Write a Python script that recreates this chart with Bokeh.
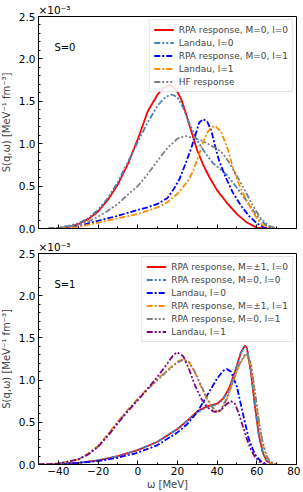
from bokeh.plotting import figure
from bokeh.models import (SingleIntervalTicker, PrintfTickFormatter, Label,
                          Legend, LegendItem, Range1d, CustomJSTickFormatter)
from bokeh.layouts import column
from bokeh.embed import file_html
from bokeh.resources import INLINE

# ---------------- data (S(q,w) in units of 1e-3 MeV^-1 fm^-3) ----------------
# top panel, S=0
w_t_rpa_l0 = [-40, -35, -30, -25, -20, -15, -10, -5, 0, 5, 10, 13, 16, 18, 20, 22, 24, 26, 28, 30, 33, 36, 40, 45, 50, 55, 60, 65]
s_t_rpa_l0 = [0.0, 0.02, 0.05, 0.11, 0.20, 0.34, 0.52, 0.76, 1.05, 1.38, 1.58, 1.66, 1.69, 1.67, 1.61, 1.52, 1.38, 1.22, 1.07, 0.92, 0.75, 0.61, 0.45, 0.30, 0.17, 0.07, 0.01, 0.0]

w_t_lan_l0 = [-45, -40, -35, -30, -25, -20, -15, -10, -5, 0, 5, 10, 14, 17, 20, 23, 26, 29, 32, 35, 38, 41, 45, 50, 55, 60, 65, 70]
s_t_lan_l0 = [0.0, 0.01, 0.03, 0.06, 0.12, 0.22, 0.36, 0.55, 0.78, 1.02, 1.25, 1.45, 1.55, 1.58, 1.55, 1.42, 1.24, 1.08, 0.96, 0.86, 0.77, 0.71, 0.63, 0.48, 0.32, 0.15, 0.03, 0.0]

w_t_rpa_l1 = [-45, -40, -30, -20, -10, 0, 5, 10, 15, 18, 21, 24, 27, 29, 31, 33, 35, 37, 39, 41, 44, 48, 52, 56, 60, 64, 67]
s_t_rpa_l1 = [0.0, 0.0, 0.03, 0.09, 0.15, 0.22, 0.25, 0.29, 0.36, 0.46, 0.58, 0.76, 0.95, 1.10, 1.25, 1.29, 1.26, 1.16, 0.97, 0.80, 0.62, 0.42, 0.27, 0.15, 0.06, 0.01, 0.0]

w_t_lan_l1 = [-45, -40, -30, -20, -10, 0, 5, 10, 15, 20, 25, 28, 31, 33, 35, 37, 39, 42, 45, 48, 51, 54, 57, 60, 63, 66]
s_t_lan_l1 = [0.0, 0.0, 0.02, 0.07, 0.12, 0.17, 0.21, 0.25, 0.31, 0.41, 0.55, 0.68, 0.88, 1.02, 1.13, 1.19, 1.21, 1.14, 0.96, 0.72, 0.52, 0.37, 0.24, 0.12, 0.04, 0.0]

w_t_hf = [-45, -40, -30, -25, -20, -15, -10, -5, 0, 5, 10, 15, 20, 24, 28, 32, 36, 40, 43, 46, 50, 54, 58, 62, 66, 70]
s_t_hf = [0.0, 0.01, 0.04, 0.08, 0.14, 0.21, 0.29, 0.40, 0.50, 0.64, 0.80, 0.95, 1.06, 1.09, 1.07, 1.04, 0.99, 0.94, 0.88, 0.78, 0.62, 0.45, 0.27, 0.12, 0.03, 0.0]

# bottom panel, S=1
w_b_rpa_m1_l0 = [-45, -40, -30, -20, -10, 0, 10, 20, 25, 30, 35, 40, 43, 46, 49, 52, 54, 55, 57, 59, 61, 63, 65, 68]
s_b_rpa_m1_l0 = [0.0, 0.01, 0.02, 0.05, 0.10, 0.17, 0.27, 0.42, 0.52, 0.63, 0.69, 0.72, 0.78, 0.90, 1.10, 1.33, 1.41, 1.38, 1.10, 0.70, 0.35, 0.14, 0.04, 0.0]

w_b_rpa_m0_l0 = [-45, -40, -30, -20, -10, 0, 10, 20, 25, 30, 35, 40, 43, 46, 49, 52, 54, 55, 57, 59, 61, 63, 65, 68]
s_b_rpa_m0_l0 = [0.0, 0.01, 0.02, 0.05, 0.10, 0.17, 0.27, 0.42, 0.52, 0.62, 0.68, 0.71, 0.77, 0.89, 1.09, 1.32, 1.40, 1.38, 1.12, 0.72, 0.37, 0.15, 0.05, 0.0]

w_b_lan_l0 = [-45, -40, -30, -20, -10, 0, 10, 20, 25, 30, 35, 40, 43, 45, 47, 50, 53, 56, 59, 62, 65]
s_b_lan_l0 = [0.0, 0.01, 0.02, 0.04, 0.08, 0.14, 0.23, 0.38, 0.48, 0.62, 0.82, 1.02, 1.11, 1.13, 1.10, 0.92, 0.60, 0.30, 0.12, 0.04, 0.0]

w_b_rpa_m1_l1 = [-50, -40, -30, -25, -20, -15, -10, -5, 0, 5, 10, 15, 20, 23, 26, 29, 32, 35, 38, 40, 42, 45, 48, 51, 54, 55, 57, 59, 61, 63, 65, 67, 70]
s_b_rpa_m1_l1 = [0.0, 0.01, 0.06, 0.13, 0.22, 0.36, 0.51, 0.65, 0.78, 0.90, 1.01, 1.12, 1.22, 1.25, 1.21, 1.08, 0.92, 0.77, 0.66, 0.62, 0.64, 0.78, 0.98, 1.17, 1.29, 1.30, 1.18, 0.85, 0.50, 0.24, 0.09, 0.02, 0.0]

w_b_rpa_m0_l1 = [-50, -40, -30, -25, -20, -15, -10, -5, 0, 5, 10, 15, 20, 23, 26, 29, 32, 35, 38, 40, 42, 45, 48, 51, 54, 55, 57, 59, 61, 63, 65, 67, 70]
s_b_rpa_m0_l1 = [0.0, 0.01, 0.06, 0.12, 0.21, 0.35, 0.50, 0.64, 0.77, 0.89, 1.00, 1.11, 1.21, 1.24, 1.21, 1.09, 0.93, 0.78, 0.67, 0.63, 0.65, 0.79, 0.99, 1.18, 1.30, 1.31, 1.20, 0.88, 0.53, 0.26, 0.10, 0.03, 0.0]

w_b_lan_l1 = [-50, -40, -30, -25, -20, -15, -10, -5, 0, 5, 10, 15, 18, 20, 23, 26, 29, 32, 35, 38, 40, 42, 45, 47, 49, 51, 53, 55, 57, 59, 62, 65]
s_b_lan_l1 = [0.0, 0.01, 0.06, 0.12, 0.21, 0.34, 0.49, 0.63, 0.76, 0.90, 1.04, 1.20, 1.30, 1.33, 1.28, 1.12, 0.93, 0.78, 0.68, 0.63, 0.62, 0.65, 0.72, 0.75, 0.72, 0.60, 0.45, 0.30, 0.18, 0.09, 0.02, 0.0]

y_ticks = [0.0, 0.5, 1.0, 1.5, 2.0, 2.5]
x_ticks = [-40, -20, 0, 20, 40, 60, 80]
x_tick_labels = ["\u221240", "\u221220", "0", "20", "40", "60", "80"]

DASH_DOT = "6 2 2 2"
DASH_DOT_DOT = "6 2 2 2 2 2"
DASH_DOT3 = "6 2 2 2 2 2 2 2"

top_series = [
    ("RPA response, M=0, l=0", w_t_rpa_l0, s_t_rpa_l0, "#ff0000", "solid"),
    ("Landau, l=0", w_t_lan_l0, s_t_lan_l0, "#4682b4", DASH_DOT_DOT),
    ("RPA response, M=0, l=1", w_t_rpa_l1, s_t_rpa_l1, "#0000ff", DASH_DOT),
    ("Landau, l=1", w_t_lan_l1, s_t_lan_l1, "#ff8c00", DASH_DOT),
    ("HF response", w_t_hf, s_t_hf, "#808080", DASH_DOT3),
]
bot_series = [
    ("RPA response, M=\u00b11, l=0", w_b_rpa_m1_l0, s_b_rpa_m1_l0, "#ff0000", "solid"),
    ("RPA response, M=0, l=0", w_b_rpa_m0_l0, s_b_rpa_m0_l0, "#4682b4", DASH_DOT_DOT),
    ("Landau, l=0", w_b_lan_l0, s_b_lan_l0, "#0000ff", DASH_DOT),
    ("RPA response, M=\u00b11, l=1", w_b_rpa_m1_l1, s_b_rpa_m1_l1, "#ff8c00", DASH_DOT),
    ("RPA response, M=0, l=1", w_b_rpa_m0_l1, s_b_rpa_m0_l1, "#808080", DASH_DOT3),
    ("Landau, l=1", w_b_lan_l1, s_b_lan_l1, "#800080", DASH_DOT_DOT),
]

FONT = "DejaVu Sans"


def make_panel(series, spin_label, show_x_labels, frame_h, border_top, border_bottom):
    p = figure(frame_width=258, frame_height=frame_h,
               x_range=Range1d(-50, 80), y_range=Range1d(0, 2.5),
               output_backend="svg", toolbar_location=None,
               title="\u00d710\u207b\u00b3",
               min_border_left=35, min_border_right=4,
               min_border_top=border_top, min_border_bottom=border_bottom)
    p.title.align = "left"
    p.title.text_font = FONT
    p.title.text_font_size = "10.5px"
    p.title.text_font_style = "normal"
    p.title.text_color = "black"
    p.title.standoff = 1
    p.title.offset = 0
    p.grid.visible = False
    p.outline_line_color = "black"
    p.outline_line_width = 1
    p.background_fill_color = "white"
    p.border_fill_color = "white"

    items = []
    for name, xs, ys, col, dash in series:
        r = p.line(xs, ys, line_color=col, line_width=1.8, line_dash=dash)
        items.append(LegendItem(label=name, renderers=[r]))

    xa = p.xaxis[0]
    xa.ticker = SingleIntervalTicker(interval=20, num_minor_ticks=2)
    xa.major_tick_in = 4
    xa.major_tick_out = 0
    xa.minor_tick_in = 2
    xa.minor_tick_out = 0
    xa.axis_line_color = "black"
    xa.major_label_text_font = FONT
    if show_x_labels:
        xa.major_label_overrides = dict(zip(x_ticks, x_tick_labels))
        xa.major_label_text_font_size = "10.5px"
        xa.major_label_text_color = "black"
        xa.major_label_standoff = 2
        xa.axis_label = "\u03c9 [MeV]"
        xa.axis_label_text_font = FONT
        xa.axis_label_text_font_size = "10px"
        xa.axis_label_text_font_style = "normal"
        xa.axis_label_standoff = 1
    else:
        xa.formatter = CustomJSTickFormatter(code="return ''")
        xa.major_label_standoff = 0

    ya = p.yaxis[0]
    ya.ticker = SingleIntervalTicker(interval=0.5, num_minor_ticks=5)
    ya.formatter = PrintfTickFormatter(format="%.1f")
    ya.major_tick_in = 4
    ya.major_tick_out = 0
    ya.minor_tick_in = 2
    ya.minor_tick_out = 0
    ya.axis_line_color = "black"
    ya.major_label_text_font = FONT
    ya.major_label_text_font_size = "10.5px"
    ya.major_label_text_color = "black"
    ya.major_label_standoff = 3
    ya.axis_label = "S(q,\u03c9) [MeV\u207b\u00b9 fm\u207b\u00b3]"
    ya.axis_label_text_font = FONT
    ya.axis_label_text_font_size = "10px"
    ya.axis_label_text_font_style = "normal"
    ya.axis_label_standoff = 4

    leg = Legend(items=items, location="top_right")
    leg.label_text_font = FONT
    leg.label_text_font_size = "9px"
    leg.label_height = 11
    leg.glyph_height = 11
    leg.glyph_width = 20
    leg.label_standoff = 5
    leg.spacing = 2
    leg.padding = 4
    leg.margin = 3
    leg.border_line_color = "#cccccc"
    leg.border_line_width = 1
    leg.background_fill_color = "white"
    leg.background_fill_alpha = 0.85
    p.add_layout(leg)

    p.add_layout(Label(x=-42, y=2.13, text=spin_label, text_font=FONT,
                       text_font_size="10px", text_baseline="middle",
                       text_color="black"))
    return p


p1 = make_panel(top_series, "S=0", False, 212, 10, 5)
p2 = make_panel(bot_series, "S=1", True, 211, 20, 22)

layout = column(p1, p2, spacing=0, margin=(1, 0, 0, -3))

open("out.html", "w").write(file_html(layout, INLINE))
